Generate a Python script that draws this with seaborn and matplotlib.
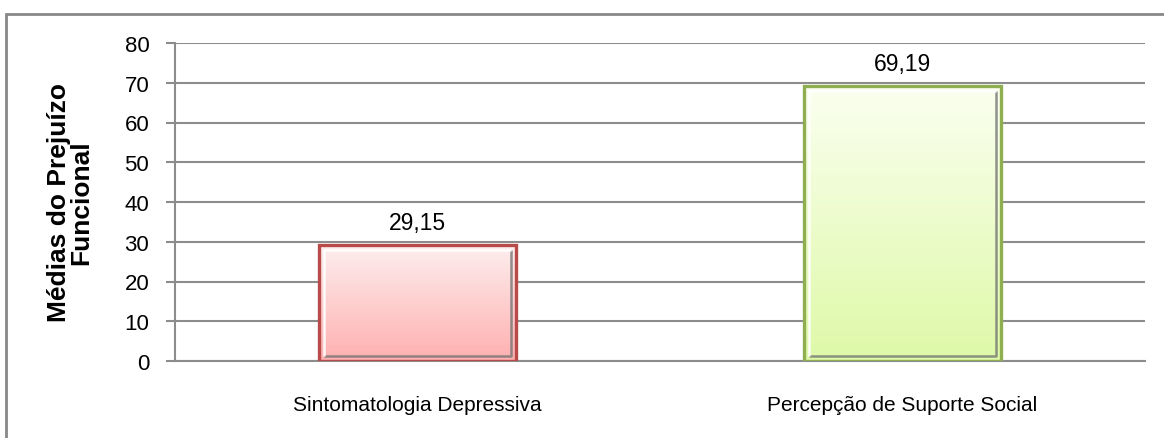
import numpy as np
import pandas as pd
import matplotlib
matplotlib.use("Agg")
import matplotlib.pyplot as plt
import seaborn as sns
from matplotlib.colors import LinearSegmentedColormap
from matplotlib.patches import Rectangle

# data
categorias = ["Sintomatologia Depressiva", "Percepção de Suporte Social"]
medias = [29.15, 69.19]
rotulos = ["29,15", "69,19"]

df = pd.DataFrame({"categoria": categorias, "media": medias})

sns.set_style("white")
plt.rcParams["font.family"] = ["Liberation Sans", "DejaVu Sans"]
plt.rcParams["text.color"] = "black"

fig = plt.figure(figsize=(11.64, 4.39), dpi=100)
ax = fig.add_axes([175 / 1164, 1 - 362 / 439, 970 / 1164, 318 / 439])

sns.barplot(data=df, x="categoria", y="media", ax=ax, width=0.405,
            color="white", saturation=1, zorder=3)

ax.set_xlim(-0.5, 1.5)
ax.set_ylim(0, 80)

# pixel -> data sizes for the bevel inset
px_x = 2.0 / 970
px_y = 80.0 / 318

# gradient fills, top light -> bottom darker
gradientes = [("#fdeeee", "#ffb0b0", "#b84a4a"), ("#fbfff0", "#def9a8", "#8fae52")]
for patch, (c_top, c_bot, c_edge) in zip(ax.patches, gradientes):
    x0, y0 = patch.get_x(), patch.get_y()
    w, h = patch.get_width(), patch.get_height()
    cmap = LinearSegmentedColormap.from_list("g", [c_bot, c_top])
    grad = np.linspace(0, 1, 256).reshape(-1, 1)
    im = ax.imshow(grad, cmap=cmap, aspect="auto", origin="lower",
                   extent=[x0, x0 + w, y0, y0 + h], zorder=3)
    im.set_clip_path(patch)
    patch.set_facecolor("none")
    patch.set_edgecolor(c_edge)
    patch.set_linewidth(2.4)
    patch.set_zorder(5)
    # bevel look: dark inner edges right/bottom, light top/left
    dx, dy = 5 * px_x, 5 * px_y
    xl, xr = x0 + dx, x0 + w - dx
    yb, yt = y0 + dy, y0 + h - dy
    ax.plot([xl, xr, xr], [yb, yb, yt], color="#6e6e6e", lw=1.8, alpha=0.75,
            zorder=4, solid_capstyle="butt")
    ax.plot([xl, xl, xr], [yb, yt, yt], color="white", lw=1.8, alpha=0.9,
            zorder=4, solid_capstyle="butt")

ax.set_yticks(range(0, 81, 10))
ax.grid(axis="y", color="#8c8c8c", linewidth=1.5, zorder=0)
ax.set_axisbelow(True)

for nome in ["top", "right"]:
    ax.spines[nome].set_visible(False)
for nome in ["left", "bottom"]:
    ax.spines[nome].set_color("#8c8c8c")
    ax.spines[nome].set_linewidth(1.5)

ax.tick_params(axis="y", left=True, length=6.5, width=1.5, color="#8c8c8c",
               pad=12, labelsize=16, labelcolor="black")
ax.tick_params(axis="x", bottom=False, pad=21, labelsize=15, labelcolor="black")

ax.set_xlabel("")
ax.set_ylabel("Médias do Prejuízo\nFuncional", fontsize=19, fontweight="bold",
              linespacing=0.9, color="black")
ax.yaxis.set_label_coords(-0.084, 0.5)

ax.bar_label(ax.containers[0], labels=rotulos, padding=8, fontsize=16.5,
             color="black")

# outer chart frame
fig.patches.append(Rectangle((6 / 1164, -0.1), 1.2, 1 - 15 / 439 + 0.1,
                             transform=fig.transFigure, fill=False,
                             edgecolor="#888888", linewidth=2))

fig.savefig("out.png", dpi=100)
